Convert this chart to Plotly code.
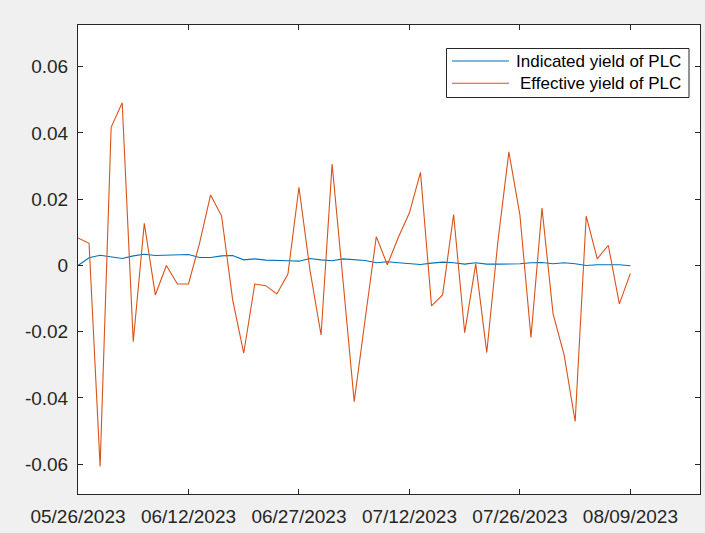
import plotly.graph_objects as go

# ---- data ----
tick_labels = ["05/26/2023", "06/12/2023", "06/27/2023", "07/12/2023", "07/26/2023", "08/09/2023"]
tick_index = [0, 10, 20, 30, 40, 50]

indicated_yield = [
    0.0000, 0.0023, 0.0031, 0.0027, 0.0021, 0.0029, 0.0034, 0.0030, 0.0031, 0.0031,
    0.0033, 0.0024, 0.0024, 0.0029, 0.0030, 0.0017, 0.0020, 0.0016, 0.0014, 0.0014,
    0.0013, 0.0021, 0.0017, 0.0014, 0.0020, 0.0018, 0.0015, 0.0008, 0.0011, 0.0008,
    0.0006, 0.0003, 0.0007, 0.0010, 0.0008, 0.0004, 0.0008, 0.0004, 0.0004, 0.0004,
    0.0005, 0.0008, 0.0009, 0.0005, 0.0008, 0.0005, 0.0000, 0.0002, 0.0002, 0.0002,
    -0.0001,
]

effective_yield = [
    0.0083, 0.0067, -0.0607, 0.0417, 0.0491, -0.0230, 0.0127, -0.0089, 0.0000, -0.0056,
    -0.0056, 0.0067, 0.0213, 0.0149, -0.0104, -0.0265, -0.0056, -0.0061, -0.0086, -0.0026,
    0.0236, -0.0015, -0.0210, 0.0306, -0.0050, -0.0411, -0.0160, 0.0087, 0.0002, 0.0085,
    0.0159, 0.0281, -0.0122, -0.0089, 0.0154, -0.0203, 0.0005, -0.0263, 0.0070, 0.0343,
    0.0152, -0.0217, 0.0173, -0.0146, -0.0270, -0.0471, 0.0149, 0.0020, 0.0061, -0.0116,
    -0.0024,
]

y_ticks = [-0.06, -0.04, -0.02, 0, 0.02, 0.04, 0.06]
y_tick_text = ["-0.06", "-0.04", "-0.02", "0", "0.02", "0.04", "0.06"]

series_names = ["Indicated yield of PLC", "Effective yield of PLC"]
colors = ["#0072BD", "#D95319"]

x_idx = list(range(len(effective_yield)))

# ---- figure ----
W, H = 705, 533
ML, MR, MT, MB = 78, 5, 25, 39
PW, PH = W - ML - MR, H - MT - MB

def px(X):
    return (X - ML) / PW

def py(Y):
    return (H - MB - Y) / PH

fig = go.Figure()
for vals, name, col in zip([indicated_yield, effective_yield], series_names, colors):
    fig.add_trace(go.Scatter(x=x_idx, y=vals, mode="lines", name=name,
                             line=dict(color=col, width=1.1), showlegend=False))

axis_col = "#262626"
fam = "Liberation Sans, Arial, sans-serif"
font = dict(family=fam, size=19, color=axis_col)

fig.update_layout(
    width=W, height=H,
    margin=dict(l=ML, r=MR, t=MT, b=MB),
    paper_bgcolor="#F0F0F0",
    plot_bgcolor="white",
    font=font,
    xaxis=dict(range=[0, 56.3], tickvals=tick_index, ticktext=tick_labels,
               showgrid=False, zeroline=False, showline=True, linecolor=axis_col,
               linewidth=1, mirror="ticks", ticks="inside", ticklen=5,
               tickcolor=axis_col, tickwidth=1, tickfont=font, automargin=False,
               ticklabelstandoff=5),
    yaxis=dict(range=[-0.0690, 0.0726], tickvals=y_ticks, ticktext=y_tick_text,
               showgrid=False, zeroline=False, showline=True, linecolor=axis_col,
               linewidth=1, mirror="ticks", ticks="inside", ticklen=5,
               tickcolor=axis_col, tickwidth=1, tickfont=font, ticklabelstandoff=5,
               automargin=False),
)

# ---- legend (MATLAB style) ----
fig.add_shape(type="rect", xref="paper", yref="paper",
              x0=px(446.5), x1=px(689), y0=py(97.5), y1=py(48.5),
              line=dict(color=axis_col, width=1), fillcolor="white", layer="above")
for name, col, Y in zip(series_names, colors, [61, 83.3]):
    fig.add_shape(type="line", xref="paper", yref="paper",
                  x0=px(452), x1=px(509), y0=py(Y), y1=py(Y),
                  line=dict(color=col, width=1.1), layer="above")
    fig.add_annotation(xref="paper", yref="paper", x=px(683), y=py(Y),
                       text=name, showarrow=False, xanchor="right", yanchor="middle",
                       font=dict(family=fam, size=17, color="black"))

fig.write_html("out.html",
               config={"displayModeBar": False},
               post_script="document.body.style.margin='0';document.body.style.overflow='hidden';")
